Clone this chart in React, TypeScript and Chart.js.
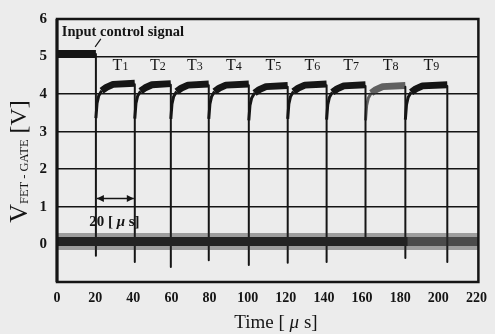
import React, { useEffect, useRef } from "react";
import { Chart, registerables } from "chart.js";
Chart.register(...registerables);

// ---- axis ranges ----
const X_MIN = 0;
const X_MAX = 221;
const X_STEP = 20;
const Y_MIN = -1;
const Y_MAX = 6;
const Y_STEP = 1;

// ---- input control signal ----
const inputLevel = 5.07;
const inputEnd = 20.4;

// ---- zero-level trace (noisy band) ----
const baselineLevel = 0.08;
const baselineDarkEnd = 184;

// ---- gate pulses T1..T9 ----
const pulseNames = ["1", "2", "3", "4", "5", "6", "7", "8", "9"];
const pulseStart = [20.4, 40.8, 59.7, 79.6, 100.6, 121.0, 141.4, 161.8, 182.7];
const pulseEnd = [40.8, 59.7, 79.6, 100.6, 121.0, 141.4, 161.8, 182.7, 204.7];
const pulseLevel = [4.26, 4.25, 4.24, 4.24, 4.2, 4.24, 4.22, 4.2, 4.22];
// rise shape: time after switch-on (µs) and voltage below plateau (V)
const riseOffsets = [0, 0.6, 1.5, 3, 5.5, 9];
const riseDrop = [0.9, 0.5, 0.3, 0.17, 0.08, 0];

// ---- switching edges (vertical transitions and undershoot spikes) ----
const edgeTimes = [20.4, 40.8, 59.7, 79.6, 100.6, 121.0, 141.4, 161.8, 182.7, 204.7];
const edgeBottom = [-0.3, -0.47, -0.6, -0.42, -0.55, -0.49, -0.47, 0.0, -0.36, -0.47];

const INK = "#151515";
const SERIF = "'Liberation Serif', serif";

export default function App() {
  const ref = useRef<HTMLCanvasElement | null>(null);

  useEffect(() => {
    const canvas = ref.current;
    if (!canvas) return;

    const datasets: any[] = [];

    // zero band
    datasets.push({
      data: [{ x: X_MIN, y: baselineLevel }, { x: X_MAX, y: baselineLevel }],
      borderColor: "rgba(40,40,40,0.4)",
      borderWidth: 17,
    });
    datasets.push({
      data: [{ x: X_MIN, y: baselineLevel }, { x: baselineDarkEnd, y: baselineLevel }],
      borderColor: "#202020",
      borderWidth: 9,
    });
    datasets.push({
      data: [{ x: baselineDarkEnd, y: baselineLevel }, { x: X_MAX, y: baselineLevel }],
      borderColor: "rgba(40,40,40,0.7)",
      borderWidth: 9,
    });

    // input control signal
    datasets.push({
      data: [{ x: X_MIN, y: inputLevel }, { x: inputEnd, y: inputLevel }],
      borderColor: INK,
      borderWidth: 8,
    });

    // edges
    const edgePts: any[] = [];
    edgeTimes.forEach((t, i) => {
      const top = i === 0 ? inputLevel : pulseLevel[i - 1];
      edgePts.push({ x: t, y: top });
      edgePts.push({ x: t, y: edgeBottom[i] });
      edgePts.push({ x: t, y: null });
    });
    datasets.push({ data: edgePts, borderColor: INK, borderWidth: 2, spanGaps: false });

    // pulses
    pulseStart.forEach((s, i) => {
      const col = i === 7 ? "rgba(50,50,50,0.75)" : INK;
      const rise = [0, 1, 2, 3].map((k) => ({ x: s + riseOffsets[k], y: pulseLevel[i] - riseDrop[k] }));
      const plat = [3, 4, 5].map((k) => ({ x: s + riseOffsets[k], y: pulseLevel[i] - riseDrop[k] }));
      plat.push({ x: pulseEnd[i], y: pulseLevel[i] + 0.03 });
      datasets.push({ data: rise, borderColor: col, borderWidth: 3 });
      datasets.push({ data: plat, borderColor: col, borderWidth: 7 });
    });

    const bgPlugin = {
      id: "bg",
      beforeDraw(chart: any) {
        const c = chart.ctx;
        c.save();
        c.fillStyle = "#ececec";
        c.fillRect(0, 0, chart.width, chart.height);
        c.restore();
      },
    };

    const drawMixed = (c: CanvasRenderingContext2D, parts: [string, string][], cx: number, y: number) => {
      let total = 0;
      parts.forEach(([txt, font]) => {
        c.font = font;
        total += c.measureText(txt).width;
      });
      let x = cx - total / 2;
      parts.forEach(([txt, font]) => {
        c.font = font;
        c.fillText(txt, x, y);
        x += c.measureText(txt).width;
      });
    };

    const decoPlugin = {
      id: "deco",
      afterDatasetsDraw(chart: any) {
        const c = chart.ctx;
        const a = chart.chartArea;
        c.save();
        c.strokeStyle = INK;
        c.lineWidth = 2.5;
        c.strokeRect(a.left, a.top, a.right - a.left, a.bottom - a.top);
        c.lineWidth = 3;
        c.beginPath();
        c.moveTo(a.left, a.top);
        c.lineTo(a.left, a.bottom);
        c.stroke();
        c.restore();
      },
      afterDraw(chart: any) {
        const c = chart.ctx;
        const xs = chart.scales.x;
        const ys = chart.scales.y;
        c.save();
        c.fillStyle = INK;
        c.strokeStyle = INK;
        c.textBaseline = "alphabetic";

        // Input control signal label + leader
        c.font = `bold 14.5px ${SERIF}`;
        c.textAlign = "left";
        c.fillText("Input control signal", xs.getPixelForValue(2.5), ys.getPixelForValue(5.56));
        c.lineWidth = 1.2;
        c.beginPath();
        c.moveTo(xs.getPixelForValue(23), ys.getPixelForValue(5.47));
        c.lineTo(xs.getPixelForValue(20), ys.getPixelForValue(5.26));
        c.stroke();

        // T labels
        c.textAlign = "left";
        pulseStart.forEach((s, i) => {
          const cx = xs.getPixelForValue((s + pulseEnd[i]) / 2 + 2.7);
          const by = ys.getPixelForValue(4.63);
          drawMixed(
            c,
            [
              ["T", `16px ${SERIF}`],
              [pulseNames[i], `12px ${SERIF}`],
            ],
            cx,
            by
          );
        });

        // 20 µs arrow
        const ax1 = xs.getPixelForValue(pulseStart[0]);
        const ax2 = xs.getPixelForValue(pulseEnd[0]);
        const ay = ys.getPixelForValue(1.22);
        c.lineWidth = 1.5;
        c.beginPath();
        c.moveTo(ax1 + 1, ay);
        c.lineTo(ax2 - 1, ay);
        c.stroke();
        const head = (x: number, dir: number) => {
          c.beginPath();
          c.moveTo(x, ay);
          c.lineTo(x + dir * 7, ay - 3.5);
          c.lineTo(x + dir * 7, ay + 3.5);
          c.closePath();
          c.fill();
        };
        head(ax1 + 1, 1);
        head(ax2 - 1, -1);
        drawMixed(
          c,
          [
            ["20 [ ", `bold 15px ${SERIF}`],
            ["μ", `italic bold 15px ${SERIF}`],
            [" s]", `bold 15px ${SERIF}`],
          ],
          (ax1 + ax2) / 2 - 1,
          ys.getPixelForValue(0.5)
        );

        // x title
        drawMixed(
          c,
          [
            ["Time [ ", `19px ${SERIF}`],
            ["μ", `italic 19px ${SERIF}`],
            [" s]", `19px ${SERIF}`],
          ],
          276,
          328
        );

        // y title (rotated)
        c.translate(27, 161.5);
        c.rotate(-Math.PI / 2);
        const partsY: [string, string, number][] = [
          ["V", `26px ${SERIF}`, 0],
          ["FET - GATE", `12.5px ${SERIF}`, 1],
          [" [V]", `24px ${SERIF}`, -1],
        ];
        let tot = 0;
        partsY.forEach(([t, f]) => {
          c.font = f;
          tot += c.measureText(t).width;
        });
        let px = -tot / 2;
        partsY.forEach(([t, f, dy]) => {
          c.font = f;
          c.fillText(t, px, dy);
          px += c.measureText(t).width;
        });
        c.restore();
      },
    };

    const chart = new Chart(canvas, {
      type: "line",
      data: { datasets },
      options: {
        animation: false,
        responsive: false,
        maintainAspectRatio: false,
        parsing: false as any,
        normalized: true,
        layout: { padding: { left: 0, right: 5, top: 12, bottom: 0 } },
        elements: {
          point: { radius: 0 },
          line: { tension: 0, borderCapStyle: "butt", borderJoinStyle: "round", fill: false },
        },
        plugins: {
          legend: { display: false },
          tooltip: { enabled: false },
          title: { display: false },
        },
        scales: {
          x: {
            type: "linear",
            min: X_MIN,
            max: X_MAX,
            ticks: {
              stepSize: X_STEP,
              includeBounds: false,
              color: INK,
              padding: 8,
              maxRotation: 0,
              autoSkip: false,
              font: { family: SERIF, size: 14, weight: "bold" },
            },
            grid: { display: false, drawTicks: false },
            border: { display: false },
            afterFit: (s: any) => {
              s.height = 52;
            },
          },
          y: {
            type: "linear",
            min: Y_MIN,
            max: Y_MAX,
            ticks: {
              stepSize: Y_STEP,
              includeBounds: false,
              color: INK,
              padding: 10,
              font: { family: SERIF, size: 15, weight: "bold" },
              callback: (v: any) => (v < 0 ? "" : String(v)),
            },
            grid: {
              drawTicks: false,
              lineWidth: 1.6,
              color: (ctx: any) => {
                const v = ctx.tick ? ctx.tick.value : null;
                return v !== null && v >= 1 && v <= 5 ? INK : "rgba(0,0,0,0)";
              },
            },
            border: { display: false },
            afterFit: (s: any) => {
              s.width = 57;
            },
          },
        },
      },
      plugins: [bgPlugin, decoPlugin],
    });

    return () => chart.destroy();
  }, []);

  return (
    <div style={{ position: "fixed", left: 0, top: 0, width: 495, height: 334 }}>
      <canvas ref={ref} width={495} height={334} style={{ width: 495, height: 334, display: "block" }} />
    </div>
  );
}
